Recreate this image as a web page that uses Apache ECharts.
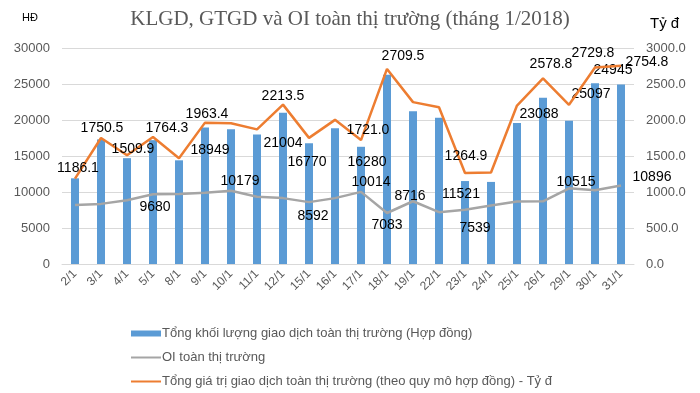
<!DOCTYPE html>
<html>
<head>
<meta charset="utf-8">
<script src="https://cdn.jsdelivr.net/npm/echarts@6/dist/echarts.min.js"></script>
<style>
    html, body { margin: 0; padding: 0; background: #fff; }
    #chart { width: 700px; height: 393px; }
</style>
</head>
<body>
<div id="chart"></div>
<script>
// ngày giao dịch
var days = ["2/1", "3/1", "4/1", "5/1", "8/1", "9/1", "10/1", "11/1", "12/1", "15/1", "16/1",
    "17/1", "18/1", "19/1", "22/1", "23/1", "24/1", "25/1", "26/1", "29/1", "30/1", "31/1"];
// KLGD (hợp đồng)
var klgd = [11900, 17300, 14700, 17200, 14400, 18949, 18700, 18000, 21004, 16770, 18850,
    16280, 26300, 21200, 20300, 11521, 11400, 19600, 23088, 19900, 25097, 24945];
// OI toàn thị trường
var oi = [8200, 8350, 8850, 9680, 9720, 9900, 10179, 9350, 9150, 8592, 9150,
    10014, 7083, 8716, 7200, 7539, 8120, 8680, 8700, 10515, 10250, 10896];
// GTGD (tỷ đồng)
var gtgd = [1186.1, 1750.5, 1509.9, 1764.3, 1468, 1963.4, 1955, 1870, 2213.5, 1752, 2002,
    1721.0, 2709.5, 2248, 2178, 1264.9, 1270, 2201, 2578.8, 2211, 2729.8, 2754.8];
var leftTicks = [0, 30000, 5000];
var rightTicks = [0, 3000, 500];

// vị trí nhãn số liệu (index: [dx, dy])
var klgdLabel = { 5: [5, 16], 8: [0, 23], 9: [-2, 12], 11: [6, 8], 15: [-4, 6], 18: [-4, 9], 20: [-4, 4], 21: [-8, -21] };
var oiLabel = { 3: [2, 13], 6: [9, -10], 9: [4, 14], 11: [10, -10], 12: [0, 12], 13: [-3, -5], 15: [10, 18], 19: [7, -6], 21: [31, -8] };
var gtgdLabel = { 0: [3, -10], 1: [1, -10], 2: [6, -6], 3: [14, -9], 5: [2, -8], 8: [0, -8], 11: [7, -10], 12: [16, -13], 15: [1, -17], 18: [8, -14], 20: [-2, -14], 21: [26, -4] };

function withLabels(values, offsets, fmt) {
    return values.map(function(v, i) {
        if (!offsets[i]) return { value: v, label: { show: false } };
        return { value: v, label: { show: true, offset: offsets[i], formatter: fmt } };
    });
}

var myChart = echarts.init(document.getElementById("chart"));
var labelText = { color: "#000", fontSize: 14, fontFamily: "Liberation Sans, Arial, sans-serif" };
var grayText = "#595959";
// icon đường kẻ mảnh cho chú thích
var lineIcon = "path://M0,0 L30,0 L30,2 L0,2 Z";

var option = {
    animation: false,
    color: ["#5B9BD5", "#A5A5A5", "#ED7D31"],
    textStyle: { fontFamily: "Liberation Sans, Arial, sans-serif" },
    title: {
        text: "KLGD, GTGD và OI toàn thị trường (tháng 1/2018)",
        left: "center",
        top: 4,
        textStyle: { fontFamily: "Liberation Serif, Times New Roman, serif", fontWeight: "normal", fontSize: 21, color: grayText }
    },
    graphic: [
        { type: "text", left: 22, top: 12, style: { text: "HĐ", fontSize: 11, fill: "#000" } },
        { type: "text", left: 650, top: 16, style: { text: "Tỷ đ", fontSize: 15, fill: "#000" } }
    ],
    legend: {
        orient: "vertical",
        left: 126,
        top: 322,
        itemWidth: 30,
        itemHeight: 6,
        itemGap: 11,
        textStyle: { color: grayText, fontSize: 13, padding: [0, 0, 0, -4] },
        data: [
            { name: "Tổng khối lượng giao dịch toàn thị trường (Hợp đồng)", icon: "rect" },
            { name: "OI toàn thị trường", icon: lineIcon },
            { name: "Tổng giá trị giao dịch toàn thị trường (theo quy mô hợp đồng) - Tỷ đ", icon: lineIcon }
        ]
    },
    grid: { left: 62, right: 66, top: 48, bottom: 129 },
    xAxis: {
        type: "category",
        data: days,
        axisTick: { show: false },
        axisLine: { lineStyle: { color: "#D9D9D9" } },
        axisLabel: { rotate: 45, color: grayText, fontSize: 12, margin: 8, interval: 0 }
    },
    yAxis: [{
        type: "value",
        min: leftTicks[0],
        max: leftTicks[1],
        interval: leftTicks[2],
        axisLabel: {
            color: grayText, fontSize: 13, margin: 12,
            formatter: function(v) { return String(v); }
        },
        splitLine: { lineStyle: { color: "#D9D9D9" } }
    }, {
        type: "value",
        min: rightTicks[0],
        max: rightTicks[1],
        interval: rightTicks[2],
        axisLabel: {
            color: grayText, fontSize: 13, margin: 12,
            formatter: function(v) { return v.toFixed(1); }
        },
        splitLine: { show: false }
    }],
    series: [{
        name: "Tổng khối lượng giao dịch toàn thị trường (Hợp đồng)",
        type: "bar",
        barWidth: 8,
        data: withLabels(klgd, klgdLabel),
        label: Object.assign({ position: "insideTop", distance: 0 }, labelText)
    }, {
        name: "OI toàn thị trường",
        type: "line",
        symbol: "circle",
        symbolSize: 0,
        showSymbol: true,
        itemStyle: { color: "#A5A5A5" },
        lineStyle: { width: 2.5, color: "#A5A5A5" },
        data: withLabels(oi, oiLabel),
        label: Object.assign({ position: "inside" }, labelText)
    }, {
        name: "Tổng giá trị giao dịch toàn thị trường (theo quy mô hợp đồng) - Tỷ đ",
        type: "line",
        yAxisIndex: 1,
        symbol: "circle",
        symbolSize: 0,
        showSymbol: true,
        itemStyle: { color: "#ED7D31" },
        lineStyle: { width: 2.5, color: "#ED7D31" },
        data: withLabels(gtgd, gtgdLabel, function(p) { return p.value.toFixed(1); }),
        label: Object.assign({ position: "inside" }, labelText)
    }]
};

myChart.setOption(option);
</script>
</body>
</html>
